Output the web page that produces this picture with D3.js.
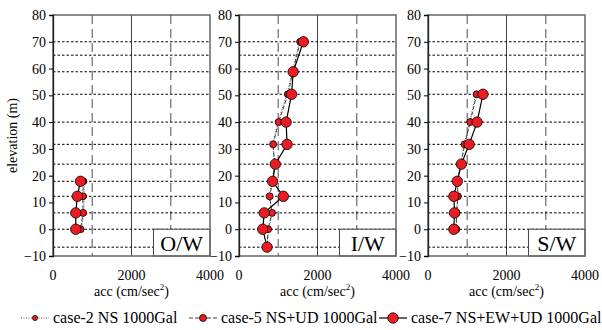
<!DOCTYPE html>
<html lang="en">
<head>
    <meta charset="UTF-8">
    <title>Acceleration profiles</title>
    <script src="https://d3js.org/d3.v7.min.js"></script>
    <style>
        body { margin: 0; background: #fff; }
        svg { display: block; font-family: "Liberation Serif", "Times New Roman", serif; }
    </style>
</head>
<body>
<div id="chart"></div>
<script>
    // Data
    const panelNames = ["O/W", "I/W", "S/W"];
    const gridLevels = [70, 65, 58.8, 50.4, 40, 31.7, 24.3, 17.9, 12.3, 6.1, 0, -6.7];
    const yTicks = [80, 70, 60, 50, 40, 30, 20, 10, 0, -10];
    const xTicks = [0, 2000, 4000];

    const elevOW = [17.9, 12.3, 6.1, 0];
    const case2OW = [800, 790, 790, 720];
    const case5OW = [770, 760, 765, 700];
    const case7OW = [700, 620, 580, 580];

    const elevIW = [70, 58.8, 50.4, 40, 31.7, 24.3, 17.9, 12.3, 6.1, 0, -6.7];
    const case2IW = [1540, 1360, 1220, 990, 860, 900, 850, 770, 850, 760, 700];
    const case5IW = [1560, 1370, 1250, 1010, 870, 910, 860, 780, 840, 740, 720];
    const case7IW = [1640, 1380, 1340, 1200, 1225, 925, 857, 1130, 643, 605, 715];

    const elevSW = [50.4, 40, 31.7, 24.3, 17.9, 12.3, 6.1, 0];
    const case2SW = [1220, 1060, 920, 830, 740, 760, 730, 720];
    const case5SW = [1240, 1075, 935, 840, 750, 762, 728, 720];
    const case7SW = [1400, 1250, 1050, 850, 746, 658, 676, 658];

    const legendLabels = ["case-2 NS 1000Gal", "case-5 NS+UD 1000Gal", "case-7 NS+EW+UD 1000Gal"];

    const panels = [
        { elev: elevOW, series: [case2OW, case5OW, case7OW] },
        { elev: elevIW, series: [case2IW, case5IW, case7IW] },
        { elev: elevSW, series: [case2SW, case5SW, case7SW] }
    ];

    // styles per series: case-2, case-5, case-7
    const styles = [
        { dash: "1,1.5", stroke: "#555", width: 1, r: 2.5 },
        { dash: "4,2", stroke: "#444", width: 1, r: 3.5 },
        { dash: null, stroke: "#000", width: 1.2, r: 5.2 }
    ];
    const red = "#ec1c24";

    const svg = d3.select("#chart").append("svg")
        .attr("width", 602)
        .attr("height", 330);

    const lefts = [53, 239, 428];
    const pw = 157, plotTop = 15, plotBottom = 256;

    const y = d3.scaleLinear().domain([-10, 80]).range([plotBottom, plotTop]);

    panels.forEach((p, i) => {
        const x = d3.scaleLinear().domain([0, 4000]).range([lefts[i], lefts[i] + pw]);
        const g = svg.append("g");

        // vertical reference lines
        [1000, 3000].forEach(v => {
            g.append("line")
                .attr("x1", x(v)).attr("x2", x(v))
                .attr("y1", y(80)).attr("y2", y(-10))
                .attr("stroke", "#777").attr("stroke-width", 1.3)
                .attr("stroke-dasharray", "9,5");
        });
        g.append("line")
            .attr("x1", x(2000)).attr("x2", x(2000))
            .attr("y1", y(80)).attr("y2", y(-10))
            .attr("stroke", "#444").attr("stroke-width", 1);

        // horizontal floor lines
        g.selectAll(".lvl").data(gridLevels).enter().append("line")
            .attr("x1", x(0)).attr("x2", x(4000))
            .attr("y1", d => y(d)).attr("y2", d => y(d))
            .attr("stroke", "#000").attr("stroke-width", 1)
            .attr("stroke-dasharray", "2.5,2");

        // series lines and markers
        p.series.forEach((vals, s) => {
            const pts = vals.map((v, k) => [v, p.elev[k]]);
            const line = d3.line().x(d => x(d[0])).y(d => y(d[1]));
            g.append("path")
                .attr("d", line(pts))
                .attr("fill", "none")
                .attr("stroke", styles[s].stroke)
                .attr("stroke-width", styles[s].width)
                .attr("stroke-dasharray", styles[s].dash);
            g.selectAll(".m" + s).data(pts).enter().append("circle")
                .attr("cx", d => x(d[0])).attr("cy", d => y(d[1]))
                .attr("r", styles[s].r)
                .attr("fill", red).attr("stroke", "#000").attr("stroke-width", 0.8);
        });

        // label box
        g.append("rect")
            .attr("x", x(2560)).attr("y", y(0))
            .attr("width", x(4000) - x(2560)).attr("height", y(-10) - y(0))
            .attr("fill", "#fff").attr("stroke", "#444").attr("stroke-width", 1);
        g.append("text")
            .attr("x", (x(2560) + x(4000)) / 2).attr("y", y(-5) + 8)
            .attr("text-anchor", "middle").attr("font-size", 22)
            .text(panelNames[i]);

        // frame
        g.append("rect")
            .attr("x", x(0)).attr("y", y(80))
            .attr("width", pw).attr("height", plotBottom - plotTop)
            .attr("fill", "none").attr("stroke", "#666").attr("stroke-width", 1.5);

        // y axis
        const ya = g.append("g")
            .attr("transform", `translate(${x(0)},0)`)
            .call(d3.axisLeft(y).tickValues(yTicks).tickSize(4).tickPadding(3));
        ya.attr("font-family", null);
        ya.select(".domain").attr("stroke", "#222").attr("stroke-width", 1.3);
        ya.selectAll("text").attr("font-size", 14).attr("fill", "#000");

        // x tick labels
        g.selectAll(".xt").data(xTicks).enter().append("text")
            .attr("x", d => x(d)).attr("y", 280)
            .attr("text-anchor", "middle").attr("font-size", 14)
            .text(d => d);

        const xt = g.append("text")
            .attr("x", x(2000)).attr("y", 296)
            .attr("text-anchor", "middle").attr("font-size", 14)
            .text("acc (cm/sec");
        xt.append("tspan").attr("font-size", 9).attr("dy", -6).text("2");
        xt.append("tspan").attr("dy", 6).text(")");
    });

    // y axis title
    svg.append("text")
        .attr("transform", `translate(17,${(plotTop + plotBottom) / 2}) rotate(-90)`)
        .attr("text-anchor", "middle").attr("font-size", 14)
        .text("elevation (m)");

    // legend
    const legX = [21, 189, 379];
    legendLabels.forEach((lab, s) => {
        const lg = svg.append("g").attr("transform", `translate(${legX[s]},318)`);
        lg.append("line")
            .attr("x1", 0).attr("x2", 28).attr("y1", 0).attr("y2", 0)
            .attr("stroke", styles[s].stroke).attr("stroke-width", styles[s].width)
            .attr("stroke-dasharray", styles[s].dash);
        lg.append("circle").attr("cx", 14).attr("cy", 0).attr("r", styles[s].r)
            .attr("fill", red).attr("stroke", "#000").attr("stroke-width", 0.8);
        lg.append("text").attr("x", 32).attr("y", 5).attr("font-size", 16).text(lab);
    });
</script>
</body>
</html>
